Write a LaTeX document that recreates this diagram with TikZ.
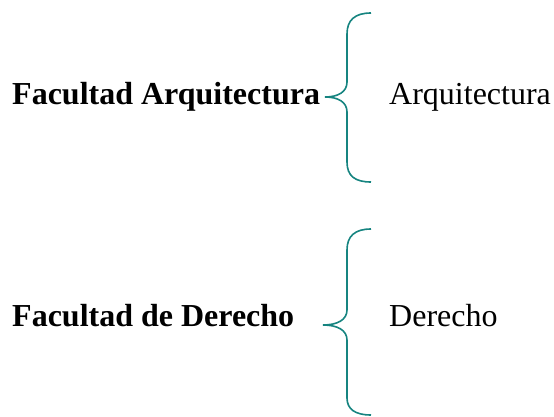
\documentclass[tikz,border=0pt]{standalone}
\usepackage{fontspec}
\setmainfont{Liberation Serif}
\usepackage{tikz}
\definecolor{tt}{RGB}{22, 132, 128}

\begin{document}
\begin{tikzpicture}[every node/.style={inner sep=0pt, font=\fontsize{32}{38}\selectfont},
  bracestyle/.style={line width=1.6pt, color=tt}]
\useasboundingbox (0pt,0pt) rectangle (554pt,-417pt);
\node (1) [anchor=base west] at (12pt, -105pt) {\textbf{Facultad Arquitectura}};
\node (2) [anchor=base west] at (389pt, -105pt) {Arquitectura};
\node (3) [anchor=base west] at (12pt, -326pt) {\textbf{Facultad de Derecho}};
\node (4) [anchor=base west] at (389pt, -326pt) {Derecho};
\coordinate (t1) at (371pt, -13pt);
\coordinate (p1) at (325pt, -97pt);
\coordinate (b1) at (371pt, -182pt);
\coordinate (t2) at (371pt, -229pt);
\coordinate (p2) at (323pt, -325pt);
\coordinate (b2) at (371pt, -415pt);
\draw [bracestyle] (t1) .. controls (355pt,-13pt) and (347pt,-20pt) .. (347pt,-34pt) -- (347pt,-82pt) .. controls (347pt,-92pt) and (338pt,-97pt) .. (p1);
\draw [bracestyle] (p1) .. controls (338pt,-97pt) and (347pt,-102pt) .. (347pt,-112pt) -- (347pt,-162pt) .. controls (347pt,-176pt) and (355pt,-182pt) .. (b1);
\draw [bracestyle] (t2) .. controls (355pt,-229pt) and (347pt,-236pt) .. (347pt,-250pt) -- (347pt,-310pt) .. controls (347pt,-320pt) and (337pt,-325pt) .. (p2);
\draw [bracestyle] (p2) .. controls (337pt,-325pt) and (347pt,-330pt) .. (347pt,-340pt) -- (347pt,-398pt) .. controls (347pt,-409pt) and (355pt,-415pt) .. (b2);
\end{tikzpicture}
\end{document}
